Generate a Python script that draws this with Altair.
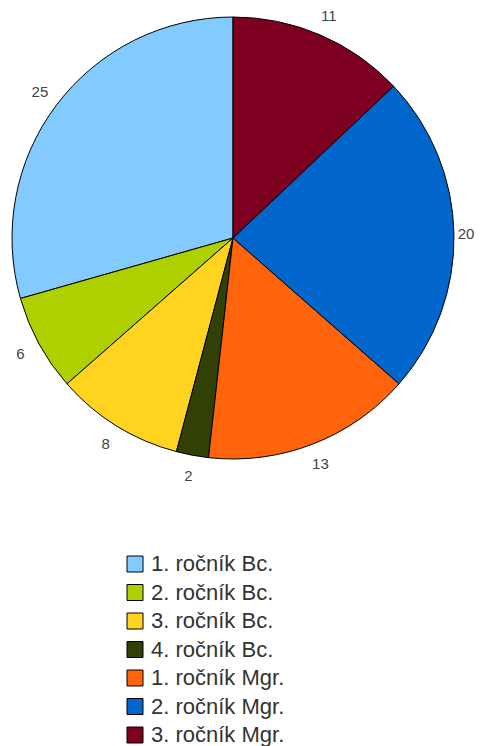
import altair as alt
import pandas as pd

categories = ["1. ročník Bc.", "2. ročník Bc.", "3. ročník Bc.", "4. ročník Bc.",
              "1. ročník Mgr.", "2. ročník Mgr.", "3. ročník Mgr."]
values = [25, 6, 8, 2, 13, 20, 11]
colors = ["#83caff", "#aecf00", "#ffd320", "#314004", "#ff630c", "#0066cc", "#7e0021"]
# drawing order clockwise from 12 o'clock
slice_order = [7, 6, 5, 4, 3, 2, 1]

df = pd.DataFrame({"kategorie": categories, "pocet": values, "poradi": slice_order})

W, H = 467, 738
CX, CY = 225, 230
R = 221
LABEL_R = 242

pie = alt.Chart(df).mark_arc(outerRadius=R, stroke="black", strokeWidth=1).encode(
    theta=alt.Theta("pocet:Q", stack=True),
    order=alt.Order("poradi:Q", sort="ascending"),
    x=alt.value(CX),
    y=alt.value(CY),
    color=alt.Color(
        "kategorie:N",
        scale=alt.Scale(domain=categories, range=colors),
        sort=categories,
        legend=alt.Legend(
            title=None,
            orient="none",
            legendX=116,
            legendY=545,
            symbolType="square",
            symbolSize=256,
            symbolStrokeColor="black",
            symbolStrokeWidth=1,
            labelFontSize=22,
            labelFont="Liberation Sans",
            labelColor="#333333",
            rowPadding=6.5,
            labelOffset=5,
            labelLimit=300,
        ),
    ),
)

labels = (
    alt.Chart(df)
    .transform_window(cum="sum(pocet)", sort=[alt.SortField("poradi")], frame=[None, 0])
    .transform_joinaggregate(total="sum(pocet)")
    .transform_calculate(mid="(datum.cum - datum.pocet/2) / datum.total * 2 * PI")
    .transform_calculate(
        lx=f"min({CX} + {LABEL_R} * sin(datum.mid), {W} - 9)",
        ly=f"max({CY} - {LABEL_R} * cos(datum.mid), 8)",
    )
    .mark_text(fontSize=15, font="Liberation Sans", color="#444444",
               align="center", baseline="middle")
    .encode(
        x=alt.X("lx:Q", scale=None, axis=None),
        y=alt.Y("ly:Q", scale=None, axis=None),
        text="pocet:Q",
    )
)

chart = (pie + labels).properties(
    width=W, height=H, padding=0,
    autosize=alt.AutoSizeParams(type="none"),
).configure_view(stroke=None)

chart.save("out.html", embed_options={"renderer": "svg", "actions": False})
